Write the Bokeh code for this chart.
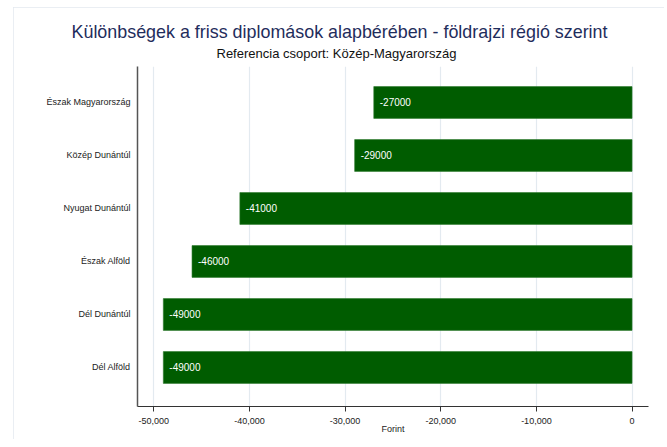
from bokeh.plotting import figure
from bokeh.models import ColumnDataSource, FixedTicker, NumeralTickFormatter, Title
from bokeh.core.properties import value
from bokeh.embed import file_html
from bokeh.resources import INLINE

# Data (top to bottom in the chart)
regions = ["Észak Magyarország", "Közép Dunántúl", "Nyugat Dunántúl",
           "Észak Alföld", "Dél Dunántúl", "Dél Alföld"]
differences = [-27000, -29000, -41000, -46000, -49000, -49000]
x_ticks = [-50000, -40000, -30000, -20000, -10000, 0]

title_text = "Különbségek a friss diplomások alapbérében - földrajzi régió szerint"
subtitle_text = "Referencia csoport: Közép-Magyarország"
x_label = "Forint"

n = len(regions)
ypos = [n - 1 - i for i in range(n)]
src = ColumnDataSource(dict(
    y=ypos,
    val=differences,
    lab=[str(v) for v in differences],
))

FONT = "Liberation Sans"

p = figure(width=651, height=432, output_backend="svg", toolbar_location=None,
           title=None,
           x_range=(-51700, 1720), y_range=(-0.736, 5.679),
           min_border_left=124, min_border_right=16, min_border_bottom=33,
           min_border_top=59)
p.styles = {"margin-left": "13px", "margin-top": "7px",
            "outline": "1px solid #e3e9ef", "outline-offset": "-1px"}

sub = Title(text=subtitle_text, align="left", offset=79, text_font=FONT,
            text_font_size="13px", text_font_style="normal", text_color="#111111",
            standoff=11)
p.add_layout(sub, "above")
main = Title(text=title_text, align="left", offset=-66, text_font=FONT,
             text_font_size="17.9px", text_font_style="normal", text_color="#1f2d5c",
             standoff=-6)
p.add_layout(main, "above")

p.hbar(y="y", right="val", left=0, height=0.6, source=src,
       fill_color="#005c00", line_color="#2f7a2f", line_width=0.6)
p.text(x="val", y="y", text="lab", source=src, x_offset=6,
       text_baseline="middle", text_align="left", text_color="white",
       text_font=value(FONT), text_font_size="10px")

p.outline_line_color = None
p.background_fill_color = "white"
p.border_fill_color = "white"

# x axis
xa = p.xaxis[0]
xa.ticker = FixedTicker(ticks=x_ticks)
xa.formatter = NumeralTickFormatter(format="0,0")
xa.axis_label = x_label
xa.axis_label_text_font = FONT
xa.axis_label_text_font_size = "9px"
xa.axis_label_text_font_style = "normal"
xa.axis_label_text_color = "#222222"
xa.axis_label_standoff = -3
xa.major_label_text_font = FONT
xa.major_label_text_font_size = "9px"
xa.major_label_text_color = "#222222"
xa.major_label_standoff = 6
xa.major_tick_out = 5
xa.major_tick_in = 0
xa.minor_tick_out = 0
xa.minor_tick_in = 0
xa.axis_line_color = "#333333"
xa.major_tick_line_color = "#333333"

# y axis
ya = p.yaxis[0]
ya.ticker = FixedTicker(ticks=ypos)
ya.major_label_overrides = {yy: r for yy, r in zip(ypos, regions)}
ya.major_label_text_font = FONT
ya.major_label_text_font_size = "9px"
ya.major_label_text_color = "#222222"
ya.major_label_standoff = 7
ya.major_tick_out = 0
ya.major_tick_in = 0
ya.minor_tick_out = 0
ya.minor_tick_in = 0
ya.axis_line_color = "#555555"
ya.axis_line_width = 1.5

p.xgrid.grid_line_color = "#e3eaf0"
p.xgrid.grid_line_width = 1.2
p.ygrid.grid_line_color = None

open("out.html", "w").write(file_html(p, INLINE))
